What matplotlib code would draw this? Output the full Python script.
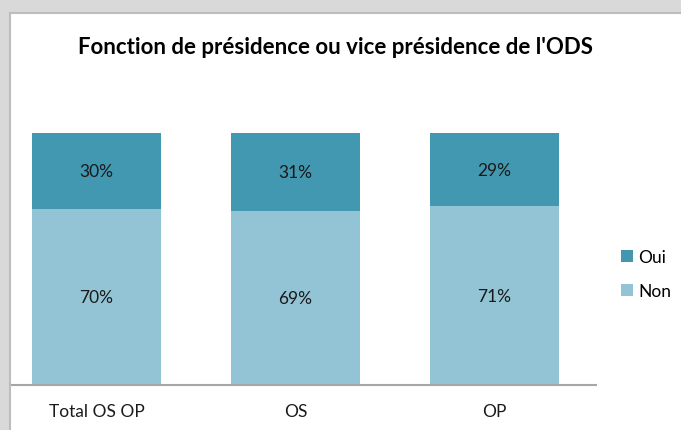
import matplotlib.pyplot as plt
from matplotlib.patches import Rectangle

categories = ['Total OS OP', 'OS', 'OP']
oui = [0.30, 0.31, 0.29]
non = [0.70, 0.69, 0.71]

col_oui = '#4298B0'
col_non = '#93C4D5'

plt.rcParams['font.family'] = ['Lato', 'DejaVu Sans']

W, H = 681, 431
fig = plt.figure(figsize=(W / 100, H / 100), dpi=100)
fig.patch.set_facecolor('white')

# grey frame of the sheet around the chart
fig.patches.append(Rectangle((0, 1 - 13 / H), 1, 13 / H, transform=fig.transFigure,
                             facecolor='#D9D9D9', edgecolor='none', zorder=0))
fig.patches.append(Rectangle((0, 0), 9 / W, 1, transform=fig.transFigure,
                             facecolor='#D9D9D9', edgecolor='none', zorder=0))
fig.add_artist(plt.Line2D([9.5 / W, 9.5 / W], [0, 1 - 13.5 / H], transform=fig.transFigure,
                          color='#BDBDBD', lw=1.5))
fig.add_artist(plt.Line2D([9.5 / W, 1], [1 - 13.5 / H, 1 - 13.5 / H], transform=fig.transFigure,
                          color='#BDBDBD', lw=1.5))

ax = fig.add_axes([12 / W, (H - 386) / H, (596 - 12) / W, 252 / H])
x = range(len(categories))
b1 = ax.bar(x, non, width=0.645, color=col_non, label='Non')
b2 = ax.bar(x, oui, width=0.645, bottom=non, color=col_oui, label='Oui')

for i in x:
    ax.text(i, non[i] / 2, f'{round(non[i]*100)}%', ha='center', va='center',
            fontsize=12.5, color='#1a1a1a')
    ax.text(i, non[i] + oui[i] / 2, f'{round(oui[i]*100)}%', ha='center', va='center',
            fontsize=12.5, color='#1a1a1a')

ax.set_xlim(-0.425, 2.51)
ax.set_ylim(0, 1)
ax.set_yticks([])
ax.set_xticks(list(x))
ax.set_xticklabels(categories, fontsize=12.5, color='#1a1a1a')
ax.tick_params(axis='x', length=0, pad=13)
for s in ['top', 'right', 'left']:
    ax.spines[s].set_visible(False)
ax.spines['bottom'].set_color('#A6A6A6')
ax.spines['bottom'].set_linewidth(1.5)

fig.text(335 / W, 1 - 47 / H, "Fonction de présidence ou vice présidence de l'ODS",
         ha='center', va='center', fontsize=16, fontweight='bold', color='black')

leg = fig.legend(handles=[b2, b1], labels=['Oui', 'Non'], loc='center left',
                 bbox_to_anchor=(605 / W, 1 - 275 / H), frameon=False, fontsize=12.5,
                 handlelength=0.7, handleheight=0.7, handletextpad=0.3, labelspacing=1.0)

fig.savefig('out.png', dpi=100)
